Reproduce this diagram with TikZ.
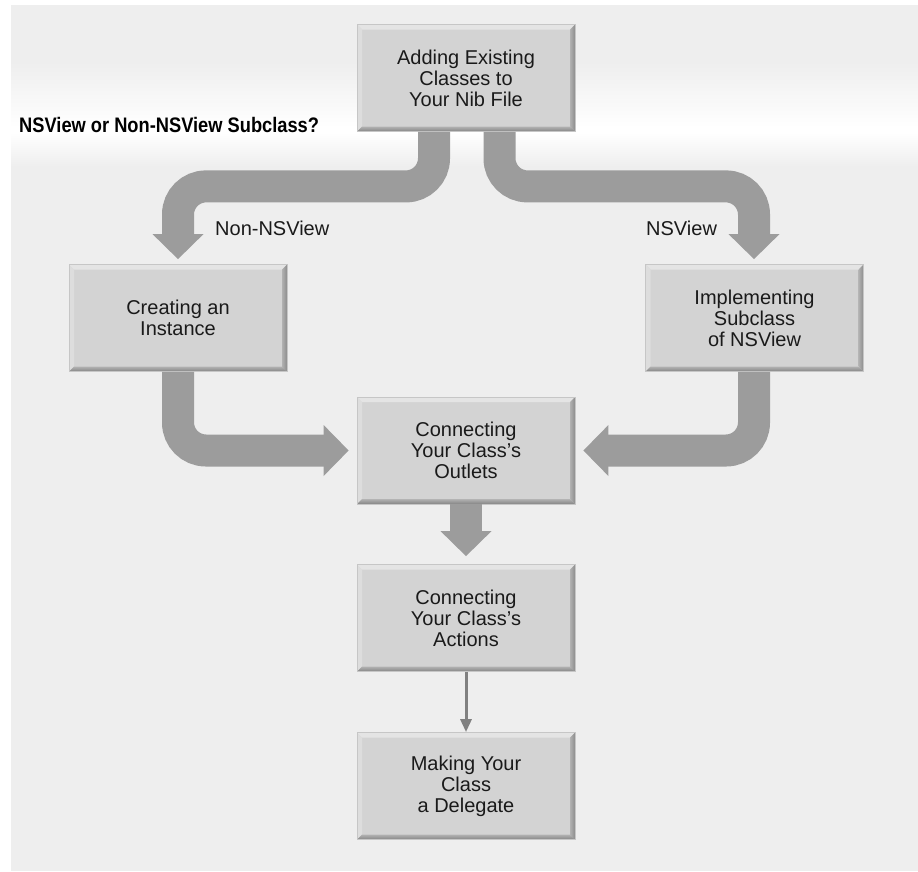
\documentclass[tikz,border=0pt]{standalone}
\usepackage{fontspec}
\setmainfont{Liberation Sans}
\newfontfamily\headfont[FakeStretch=0.87]{Liberation Sans Bold}
\usetikzlibrary{calc,arrows.meta}
\definecolor{bg}{HTML}{EEEEEE}
\definecolor{boxfill}{HTML}{D3D3D3}
\definecolor{boxedge}{HTML}{C6C6C6}
\definecolor{bevtop}{HTML}{E4E4E4}
\definecolor{bevleft}{HTML}{DDDDDD}
\definecolor{fatgray}{HTML}{9C9C9C}
\definecolor{thingray}{HTML}{808080}
\definecolor{txt}{HTML}{1A1A1A}
\tikzset{
  stepbox/.style={rectangle, minimum width=218pt, minimum height=107pt,
    inner sep=0pt, fill=boxfill, draw=boxedge, line width=0.8pt,
    align=center, text=txt, font=\fontsize{20}{21}\selectfont,
    path picture={
      \coordinate (pnw) at (path picture bounding box.north west);
      \coordinate (pne) at (path picture bounding box.north east);
      \coordinate (psw) at (path picture bounding box.south west);
      \coordinate (pse) at (path picture bounding box.south east);
      \fill[bevtop] (pnw) -- (pne) -- ($(pne)+(-5,5)$) -- ($(pnw)+(5,5)$) -- cycle;
      \fill[bevleft] (pnw) -- (psw) -- ($(psw)+(5,-5)$) -- ($(pnw)+(5,5)$) -- cycle;
      \shade[left color=boxfill!80!black!90, right color=black!45]
        (pne) -- (pse) -- ($(pse)+(-5,-5)$) -- ($(pne)+(-5,5)$) -- cycle;
      \shade[top color=black!30, bottom color=black!48]
        (psw) -- (pse) -- ($(pse)+(-5,-5)$) -- ($(psw)+(5,-5)$) -- cycle;
    }},
  fat/.style={draw=fatgray, line width=32pt, rounded corners=28pt},
  fathead/.style={fill=fatgray},
  thinarrow/.style={draw=thingray, line width=3pt, -{Triangle[length=13pt,width=11pt]}},
  lbl/.style={anchor=base west, inner sep=0pt, text=txt, font=\fontsize{20}{21}\selectfont},
  headlbl/.style={anchor=base west, inner sep=0pt, text=black, font=\headfont\fontsize{21}{24}\selectfont}
}
\begin{document}
\begin{tikzpicture}[x=1pt,y=-1pt]
\useasboundingbox (0,0) rectangle (918,871);
\fill[white] (0,0) rectangle (918,871);
\fill[bg] (11,5) rectangle (918,871);
\shade[top color=bg, bottom color=white] (11,62) rectangle (918,127.5);
\fill[white] (11,127) rectangle (918,133);
\shade[top color=white, bottom color=bg] (11,132.5) rectangle (918,166);

% boxes
\node[stepbox] (top) at (466,78) {Adding Existing\\Classes to\\Your Nib File};
\node[stepbox] (left) at (178,318) {Creating an\\Instance};
\node[stepbox] (right) at (754.5,318) {Implementing\\Subclass\\of NSView};
\node[stepbox] (outlets) at (466,450.5) {Connecting\\Your Class’s\\Outlets};
\node[stepbox] (actions) at (466,618) {Connecting\\Your Class’s\\Actions};
\node[stepbox] (making) at (466,786) {Making Your\\Class\\a Delegate};

% labels
\node[headlbl] (q) at (19,132) {NSView or Non-NSView Subclass?};
\node[lbl] (nonns) at (215,235) {Non-NSView};
\node[lbl] (ns) at (646,235) {NSView};

% top -> left
\coordinate (aS) at ($(top.south)+(-32,0)$);
\coordinate (aT) at ($(left.north)+(0,-5)$);
\coordinate (aB) at ($(aT)+(0,-25)$);
\draw[fat] (aS) -- ++(0,54.5) -| ($(aB)+(0,1)$);
\fill[fathead] (aT) -- ($(aB)+(-25.5,0)$) -- ($(aB)+(25.5,0)$) -- cycle;

% top -> right
\coordinate (bS) at ($(top.south)+(33.5,0)$);
\coordinate (bT) at ($(right.north)+(-0.5,-5)$);
\coordinate (bB) at ($(bT)+(0,-25)$);
\draw[fat] (bS) -- ++(0,54.5) -| ($(bB)+(0,1)$);
\fill[fathead] (bT) -- ($(bB)+(-25.5,0)$) -- ($(bB)+(25.5,0)$) -- cycle;

% left -> outlets
\coordinate (cT) at ($(outlets.west)+(-8,0)$);
\coordinate (cB) at ($(cT)+(-25,0)$);
\draw[fat] (left.south) |- ($(cB)+(1,0)$);
\fill[fathead] (cT) -- ($(cB)+(0,-25.5)$) -- ($(cB)+(0,25.5)$) -- cycle;

% right -> outlets
\coordinate (dT) at ($(outlets.east)+(8,0)$);
\coordinate (dB) at ($(dT)+(25,0)$);
\draw[fat] ($(right.south)+(-0.5,0)$) |- ($(dB)+(-1,0)$);
\fill[fathead] (dT) -- ($(dB)+(0,-25.5)$) -- ($(dB)+(0,25.5)$) -- cycle;

% outlets -> actions
\coordinate (eT) at ($(actions.north)+(0,-8)$);
\coordinate (eB) at ($(eT)+(0,-25)$);
\draw[fat] (outlets.south) -- ($(eB)+(0,1)$);
\fill[fathead] (eT) -- ($(eB)+(-25.5,0)$) -- ($(eB)+(25.5,0)$) -- cycle;

% actions -> making
\draw[thinarrow] (actions.south) -- (making.north);
\end{tikzpicture}
\end{document}
